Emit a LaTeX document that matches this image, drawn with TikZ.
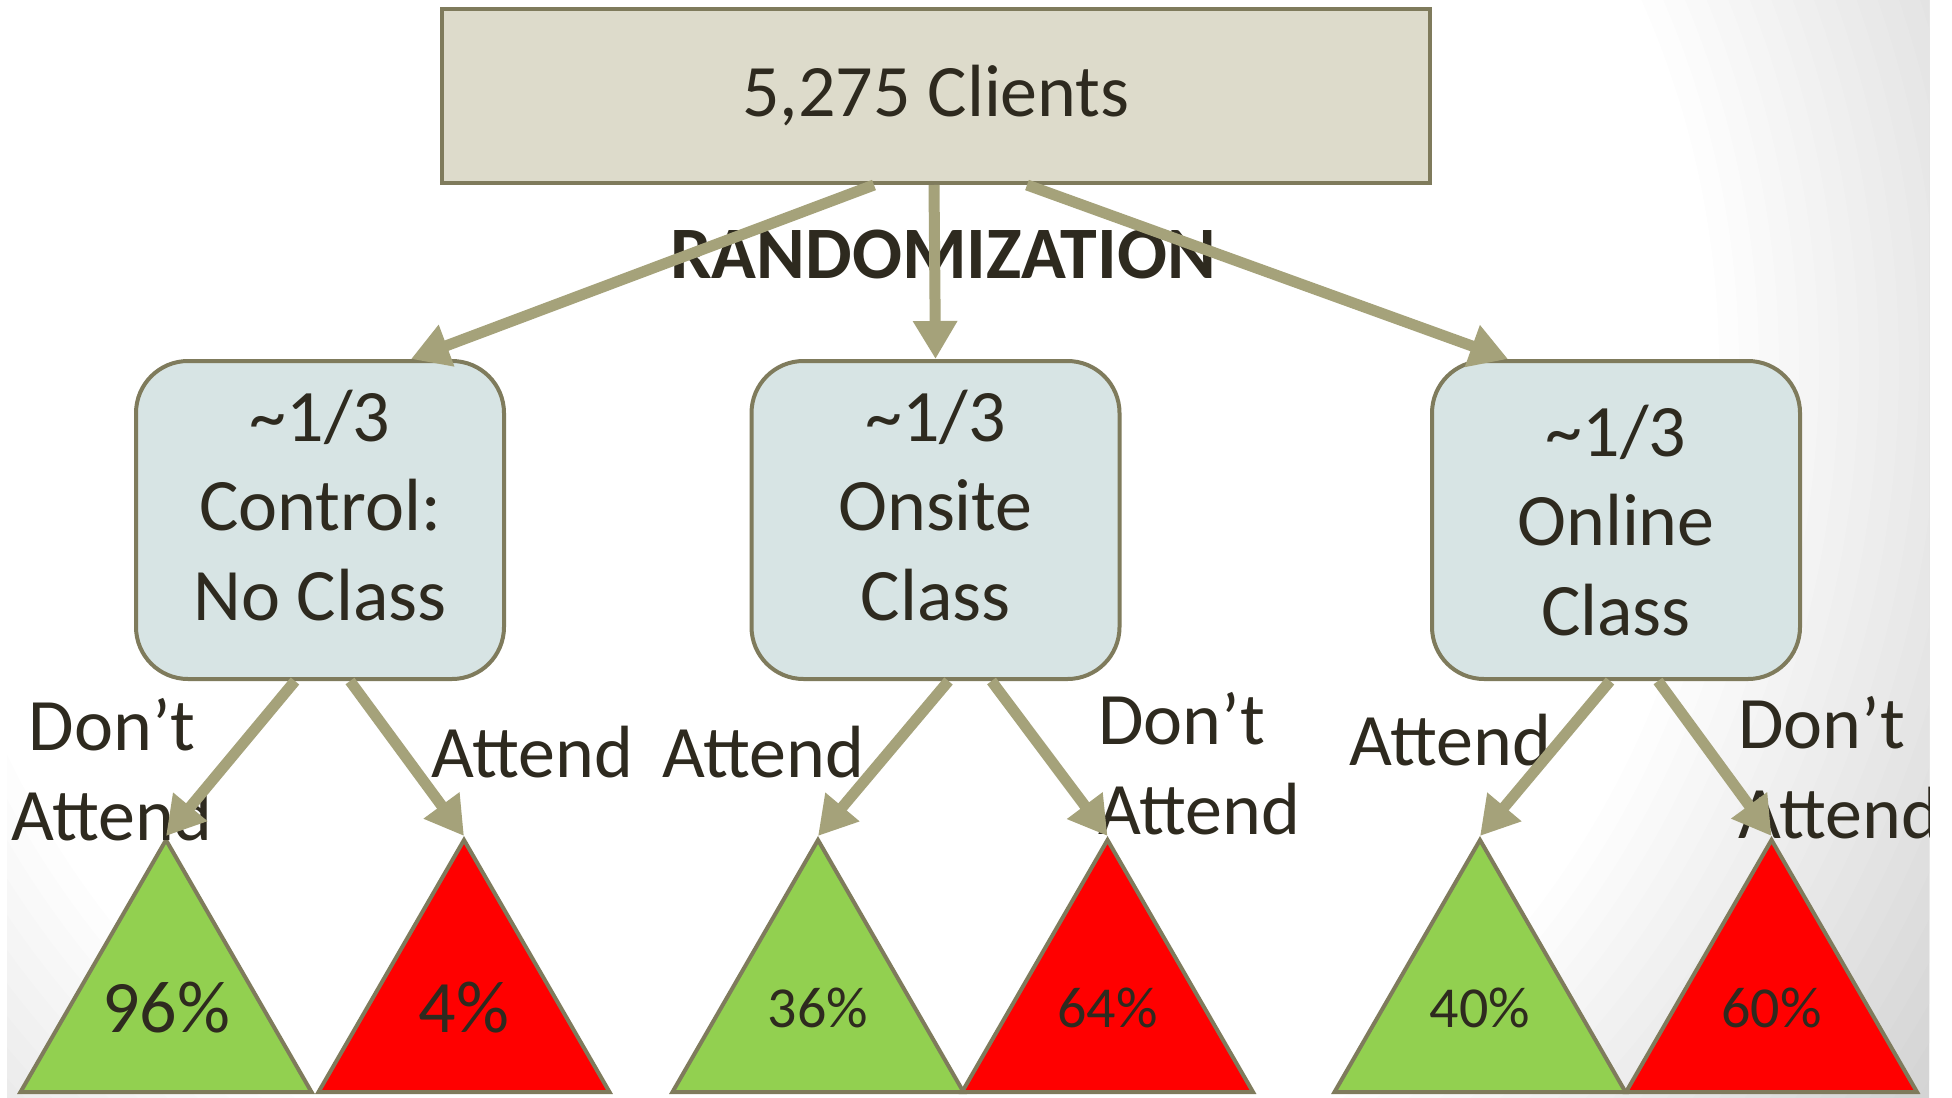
\documentclass[tikz,border=0pt]{standalone}
\usepackage{fontspec}
\setmainfont{Carlito}
\usetikzlibrary{shapes.geometric,arrows.meta}

\definecolor{edgegray}{HTML}{7F7B5C}
\definecolor{arrowtan}{HTML}{A5A27A}
\definecolor{topfill}{HTML}{DDDBCB}
\definecolor{armfill}{HTML}{D7E4E4}
\definecolor{goodgreen}{HTML}{92D050}
\definecolor{badred}{HTML}{FF0000}
\definecolor{inkdark}{HTML}{2E2A1F}
\definecolor{slidegray}{HTML}{D4D4D4}

\begin{document}
\begin{tikzpicture}[x=0.5pt,y=-0.5pt,font=\fontsize{37}{44.75}\selectfont,text=inkdark]
        % Define block styles
        \tikzstyle{clientbox} = [rectangle, draw=edgegray, line width=2pt, fill=topfill, minimum width=494pt, minimum height=87pt]
        \tikzstyle{armbox} = [rectangle, rounded corners=26pt, draw=edgegray, line width=2pt, fill=armfill, minimum width=184pt, minimum height=159pt, align=center, text depth=15pt]
        \tikzstyle{sharetri} = [regular polygon, regular polygon sides=3, draw=edgegray, line width=2pt, minimum size=168pt, inner sep=0pt, font=\fontsize{29}{34}\selectfont]
        \tikzstyle{goodtri} = [sharetri, fill=goodgreen]
        \tikzstyle{badtri} = [sharetri, fill=badred]
        \tikzstyle{choice} = [inner sep=0pt, align=left, anchor=base west]
        \tikzstyle{branch} = [draw=arrowtan, line width=5.5pt, -{Triangle[length=19pt,width=21pt]}]

        \useasboundingbox (0,0) rectangle (1952,1097);
        \begin{scope}
        \clip (7,0) rectangle (1929,1097);
        % slide background, grey towards the corners
        \foreach \r in {1340,1320,...,900} {
            \pgfmathtruncatemacro\shadeval{min(100,(\r-900)/4.3)}
            \fill [slidegray!\shadeval!white] (819,366) circle [radius=\r*0.5pt];
        }

        % Nodes
        \node [clientbox] (clients) at (936,96) {5,275 Clients};
        \node [font=\fontsize{37}{44}\selectfont\bfseries, anchor=base] (randomize) at (943,278) {RANDOMIZATION};

        \node [armbox] (control) at (320,520) {\textasciitilde1/3\\Control:\\No Class};
        \node [armbox] (onsite) at (935.5,520) {\textasciitilde1/3\\Onsite\\Class};
        \node [armbox, text depth=0pt] (online) at (1616,520) {\textasciitilde1/3\\Online\\Class};

        \node [goodtri, font=\fontsize{37}{40}\selectfont] (ctrlskip) at (166,1008) {\makebox[0pt]{96\%}};
        \node [badtri, font=\fontsize{37}{40}\selectfont] (ctrlgo) at (464,1008) {\makebox[0pt]{4\%}};
        \node [goodtri] (onsitego) at (818,1008) {\makebox[0pt]{36\%}};
        \node [badtri] (onsiteskip) at (1107.5,1008) {\makebox[0pt]{64\%}};
        \node [goodtri] (onlinego) at (1480,1008) {\makebox[0pt]{40\%}};
        \node [badtri] (onlineskip) at (1771.5,1008) {\makebox[0pt]{60\%}};

        \node [choice, align=center, anchor=base] (ctrlskiplabel) at (112,840) {Don’t\\Attend};
        \node [choice] (ctrlgolabel) at (431,777) {Attend};
        \node [choice] (onsitegolabel) at (662,777) {Attend};
        \node [choice] (onsiteskiplabel) at (1098,834) {Don’t\\Attend};
        \node [choice] (onlinegolabel) at (1349,765) {Attend};
        \node [choice] (onlineskiplabel) at (1738,838) {Don’t\\Attend};

        % Arrows
        \path [branch] ([xshift=-31pt]clients.south) -- ([xshift=45.5pt]control.north);
        \path [branch] ([xshift=-1pt]clients.south) -- (onsite.north);
        \path [branch] ([xshift=45.5pt]clients.south) -- ([xshift=-54pt]online.north);

        \path [branch] ([xshift=-12.5pt]control.south) -- (ctrlskip.corner 1);
        \path [branch] ([xshift=15pt]control.south) -- (ctrlgo.corner 1);
        \path [branch] ([xshift=6.5pt]onsite.south) -- (onsitego.corner 1);
        \path [branch] ([xshift=28pt]onsite.south) -- (onsiteskip.corner 1);
        \path [branch] ([xshift=-3pt]online.south) -- (onlinego.corner 1);
        \path [branch] ([xshift=21pt]online.south) -- (onlineskip.corner 1);
        \end{scope}

    \end{tikzpicture}
\end{document}
